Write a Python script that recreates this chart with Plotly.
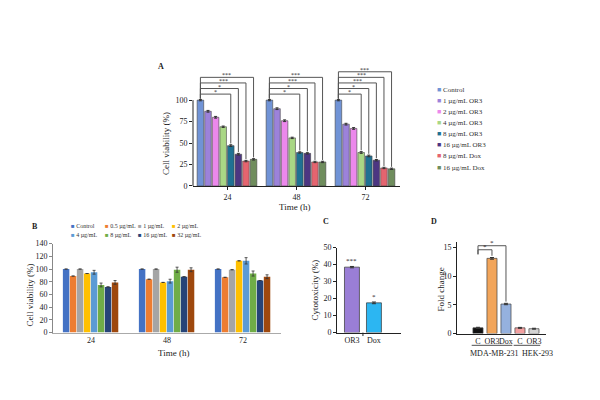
import plotly.graph_objects as go

W, H = 600, 400
FONT = "Liberation Serif"
INK = "#222222"

# ---------- panel A data
a_times = ["24", "48", "72"]
a_names = ["Control", "1 µg/mL OR3", "2 µg/mL OR3", "4 µg/mL OR3",
           "8 µg/mL OR3", "16 µg/mL OR3", "8 µg/mL Dox", "16 µg/mL Dox"]
a_colors = ["#7093d6", "#9c82da", "#ec88ec", "#a9d785", "#1f7193",
            "#4c3682", "#e5646f", "#6f8d5d"]
a_values = [
    [100, 100, 100],
    [87, 90, 72],
    [80, 76, 67],
    [69, 56, 39],
    [47, 39, 35],
    [37, 38, 30],
    [29, 28, 21],
    [31, 28, 20],
]
a_errors = [
    [0.8, 0.8, 0.8],
    [1.0, 1.0, 1.0],
    [1.0, 1.0, 1.0],
    [0.8, 0.8, 1.0],
    [1.0, 0.8, 1.0],
    [1.0, 0.8, 0.8],
    [0.8, 0.8, 0.8],
    [0.8, 0.8, 0.8],
]
# brackets from Control to bar index, per time point
a_sig = [
    [(4, "*"), (5, "*"), (6, "***"), (7, "***")],
    [(4, "*"), (5, "*"), (6, "***"), (7, "***")],
    [(3, "*"), (4, "*"), (5, "***"), (6, "***"), (7, "***")],
]

# ---------- panel B data
b_times = ["24", "48", "72"]
b_names = ["Control", "0.5 µg/mL", "1 µg/mL", "2 µg/mL",
           "4 µg/mL", "8 µg/mL", "16 µg/mL", "32 µg/mL"]
b_colors = ["#4472c4", "#ed7d31", "#a5a5a5", "#ffc000",
            "#5b9bd5", "#70ad47", "#264478", "#9e480e"]
b_values = [
    [100, 100, 100],
    [89, 84, 87],
    [100, 100, 99],
    [93, 79, 113],
    [95, 81, 113],
    [75, 99, 93],
    [72, 88, 82],
    [79, 99, 88],
]
b_errors = [
    [0, 0, 0],
    [0, 0, 0],
    [0, 0, 0],
    [0, 0, 0],
    [3, 3, 5],
    [3, 4, 4],
    [0, 0, 0],
    [3, 3, 3],
]

# ---------- panel C data
c_labels = ["OR3", "Dox"]
c_values = [38.5, 17.5]
c_errors = [0.4, 0.5]
c_colors = ["#9a7ed6", "#2cb6f2"]
c_stars = ["***", "*"]

# ---------- panel D data
d_labels = ["C", "OR3", "Dox", "C", "OR3"]
d_groups = ["MDA-MB-231", "MDA-MB-231", "MDA-MB-231", "HEK-293", "HEK-293"]
d_values = [1.0, 13.1, 5.15, 1.0, 0.85]
d_errors = [0.1, 0.15, 0.12, 0.08, 0.08]
d_colors = ["#111111", "#f2a55a", "#95b1de", "#f3a0a0", "#d3d3d3"]
d_sig = [(1, "*"), (2, "*")]


def fx(p):
    return p / W


def fy(p):
    return 1 - p / H


fig = go.Figure()
shapes = []
notes = []


def note(**kw):
    kw.setdefault("showarrow", False)
    kw.setdefault("xanchor", "center")
    kw.setdefault("yanchor", "middle")
    notes.append(kw)


# ---------- A
A_PITCH, A_WIDTH, A_START = 0.11, 0.095, -0.44
for i, name in enumerate(a_names):
    fig.add_trace(go.Bar(
        x=a_times, y=a_values[i], name=name,
        width=A_WIDTH, offset=A_START + i * A_PITCH,
        marker=dict(color=a_colors[i], line=dict(color="#444", width=0.6)),
        error_y=dict(type="data", array=a_errors[i], color="#333",
                     thickness=1, width=1.5),
        xaxis="x", yaxis="y", showlegend=False))


def a_center(ti, bi):
    return ti + A_START + bi * A_PITCH + A_WIDTH / 2


bracket = dict(color="#555", width=1)
for ti, sigs in enumerate(a_sig):
    x0 = a_center(ti, 0)
    for k, (bi, stars) in enumerate(sigs):
        level = 107 + 6.5 * k
        x1 = a_center(ti, bi)
        low = a_values[bi][ti] + a_errors[bi][ti] + 1.5
        shapes.append(dict(type="line", xref="x", yref="y", x0=x0, x1=x0,
                           y0=102, y1=level, line=bracket))
        shapes.append(dict(type="line", xref="x", yref="y", x0=x0, x1=x1,
                           y0=level, y1=level, line=bracket))
        shapes.append(dict(type="line", xref="x", yref="y", x0=x1, x1=x1,
                           y0=level, y1=low, line=bracket))
        note(xref="x", yref="y", x=(x0 + x1) / 2, y=level, text=stars,
             yanchor="bottom", yshift=-3, font=dict(size=6, color=INK))

# y axis line of A only spans 0-100
shapes.append(dict(type="line", xref="x domain", yref="y", x0=0, x1=0,
                   y0=0, y1=100, line=dict(color=INK, width=1)))

for i, name in enumerate(a_names):
    note(xref="paper", yref="paper", x=fx(427), y=fy(80 + 11.3 * i),
         xanchor="left",
         text=f"<span style='color:{a_colors[i]}'>■</span> {name}",
         font=dict(size=7, color="#333"))

# ---------- B
B_PITCH, B_WIDTH, B_START = 0.092, 0.085, -0.37
for i, name in enumerate(b_names):
    fig.add_trace(go.Bar(
        x=b_times, y=b_values[i], name=name,
        width=B_WIDTH, offset=B_START + i * B_PITCH,
        marker=dict(color=b_colors[i], line=dict(width=0)),
        error_y=dict(type="data", array=b_errors[i], color="#333",
                     thickness=0.8, width=1.5),
        xaxis="x2", yaxis="y2", showlegend=False))

b_cols = [61, 95, 128, 162]
for i, name in enumerate(b_names):
    row, col = divmod(i, 4)
    note(xref="paper", yref="paper", x=fx(b_cols[col]), y=fy(219 + 9.5 * row),
         xanchor="left",
         text=f"<span style='color:{b_colors[i]}'>■</span> {name}",
         font=dict(size=6, color="#333"))

# ---------- C
c_pos = list(range(len(c_labels)))
fig.add_trace(go.Bar(
    x=c_pos, y=c_values, width=0.68,
    marker=dict(color=c_colors, line=dict(color="#333", width=0.7)),
    error_y=dict(type="data", array=c_errors, color="#333", thickness=1, width=2),
    xaxis="x3", yaxis="y3", showlegend=False))
for p, v, e, s in zip(c_pos, c_values, c_errors, c_stars):
    note(xref="x3", yref="y3", x=p, y=v + e, text=s, yanchor="bottom",
         yshift=-1, font=dict(size=7, color=INK))
shapes.append(dict(type="line", xref="x3", yref="paper", x0=0.5, x1=0.5,
                   y0=fy(328), y1=fy(331.5), line=dict(color=INK, width=1)))

# ---------- D
d_pos = list(range(len(d_labels)))
fig.add_trace(go.Bar(
    x=d_pos, y=d_values, width=0.72,
    marker=dict(color=d_colors, line=dict(color="#444", width=0.7)),
    error_y=dict(type="data", array=d_errors, color="#333", thickness=1, width=2),
    xaxis="x4", yaxis="y4", showlegend=False))
for k, (bi, stars) in enumerate(d_sig):
    level = 14.6 + 0.7 * k
    low = d_values[bi] + d_errors[bi] + 0.3
    shapes.append(dict(type="line", xref="x4", yref="y4", x0=0, x1=0,
                       y0=13.8, y1=level, line=bracket))
    shapes.append(dict(type="line", xref="x4", yref="y4", x0=0, x1=bi,
                       y0=level, y1=level, line=bracket))
    shapes.append(dict(type="line", xref="x4", yref="y4", x0=bi, x1=bi,
                       y0=level, y1=low, line=bracket))
    note(xref="x4", yref="y4", x=bi / 2, y=level, text=stars,
         yanchor="bottom", yshift=-3, font=dict(size=7, color=INK))
group_shift = {"MDA-MB-231": 2, "HEK-293": 11}
for g in dict.fromkeys(d_groups):
    idx = [p for p, gg in zip(d_pos, d_groups) if gg == g]
    shapes.append(dict(type="line", xref="x4", yref="paper",
                       x0=min(idx) - 0.45, x1=max(idx) + 0.45,
                       y0=fy(341), y1=fy(341), line=dict(color=INK, width=0.8)))
    note(xref="x4", yref="paper", x=(min(idx) + max(idx)) / 2, y=fy(349),
         xshift=group_shift[g], text=g, font=dict(size=8, color=INK))


# ---------- titles and panel letters
def ytitle(text, x, y):
    note(xref="paper", yref="paper", x=fx(x), y=fy(y), text=text,
         textangle=-90, font=dict(size=9, color=INK))


def xtitle(text, x, y):
    note(xref="paper", yref="paper", x=fx(x), y=fy(y), text=text,
         font=dict(size=9, color=INK))


ytitle("Cell viability (%)", 158, 134)
xtitle("Time (h)", 286, 199)
ytitle("Cell viability (%)", 22, 290)
xtitle("Time (h)", 165, 349)
ytitle("Cytotoxicity (%)", 307, 285)
ytitle("Fold change", 433, 284)

for letter, x, y in [("A", 153, 56), ("B", 27, 219), ("C", 318, 214), ("D", 426, 214)]:
    note(xref="paper", yref="paper", x=fx(x), y=fy(y), text=f"<b>{letter}</b>",
         font=dict(size=8, color=INK))

tick = dict(size=8, color=INK)
axis_common = dict(showgrid=False, zeroline=False, tickfont=tick,
                   ticks="outside", ticklen=3, tickcolor=INK, tickwidth=1)

fig.update_layout(
    width=W, height=H, margin=dict(l=0, r=0, t=0, b=0),
    paper_bgcolor="white", plot_bgcolor="white",
    font=dict(family=FONT, color=INK),
    barmode="overlay",
    xaxis=dict(axis_common, domain=[fx(185), fx(392)], anchor="y",
               showline=True, linecolor=INK, type="category"),
    yaxis=dict(axis_common, domain=[fy(178), fy(55)], anchor="x",
               range=[0, 140], tickvals=[0, 25, 50, 75, 100], showline=False),
    xaxis2=dict(axis_common, domain=[fx(45), fx(273)], anchor="y2",
                showline=True, linecolor="#aaaaaa", ticks="", type="category"),
    yaxis2=dict(axis_common, domain=[fy(328), fy(237)], anchor="x2",
                range=[0, 140], dtick=20, showline=True, linecolor="#888888",
                tickcolor="#888888"),
    xaxis3=dict(axis_common, domain=[fx(329), fx(393)], anchor="y3",
                range=[-0.68, 2.23], tickvals=c_pos, ticktext=c_labels,
                ticks="", showline=True, linecolor=INK, tickangle=0),
    yaxis3=dict(axis_common, domain=[fy(328), fy(241)], anchor="x3",
                range=[0, 50], dtick=10, showline=True, linecolor=INK),
    xaxis4=dict(axis_common, domain=[fx(449), fx(538)], anchor="y4",
                range=[-1.5, 4.86], tickvals=d_pos, ticktext=d_labels,
                ticks="", showline=True, linecolor=INK, tickangle=0),
    yaxis4=dict(axis_common, domain=[fy(329), fy(235)], anchor="x4",
                range=[0, 16], tickvals=[0, 5, 10, 15], showline=True,
                linecolor=INK),
    shapes=shapes,
    annotations=notes,
)

fig.write_html("out.html")
